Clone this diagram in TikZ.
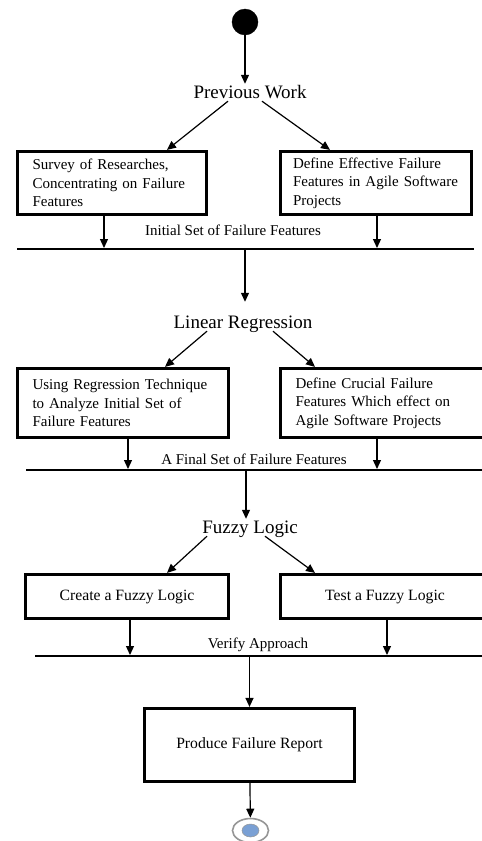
\documentclass[tikz,border=0pt]{standalone}
\usepackage{fontspec}
\setmainfont{Liberation Serif}
\usepackage{tikz}
\usetikzlibrary{arrows.meta,shapes.geometric}
\pgfdeclarelayer{edgelayer}
\pgfdeclarelayer{nodelayer}
\pgfsetlayers{edgelayer,nodelayer,main}
\definecolor{ringgray}{RGB}{150,150,150}
\definecolor{endblue}{RGB}{122,160,212}
\tikzstyle{none}=[inner sep=0pt]
\tikzstyle{initial}=[circle,fill=black,draw=black,minimum size=26pt,inner sep=0pt]
\tikzstyle{final}=[ellipse,draw=ringgray,line width=1.6pt,fill=white,minimum width=36pt,minimum height=24pt,inner sep=0pt,
  path picture={\fill[endblue,draw=ringgray,line width=0.5pt] (path picture bounding box.center) ellipse (8.5pt and 6.5pt);}]
\tikzstyle{heading}=[font=\fontsize{19}{22}\selectfont,inner sep=1pt,text height=13pt,text depth=2pt,anchor=base]
\tikzstyle{barlabel}=[font=\fontsize{15}{18}\selectfont,inner sep=1pt,anchor=base]
\tikzstyle{activity}=[rectangle,draw=black,line width=3.2pt,font=\fontsize{15}{18.5}\selectfont,inner xsep=15pt,inner ysep=2pt,align=left]
\tikzstyle{task}=[rectangle,draw=black,line width=3.2pt,font=\fontsize{15.7}{19}\selectfont,inner sep=2pt,align=center]
\tikzstyle{syncbar}=[rectangle,fill=black,inner sep=0pt,minimum height=1.6pt]
\tikzstyle{flow}=[-{Triangle[length=9pt,width=8pt]},line width=1.2pt]

\begin{document}
\begin{tikzpicture}[x=1pt,y=-1pt]
	\useasboundingbox (0,0) rectangle (482,841);
	\begin{pgfonlayer}{nodelayer}
		\node [style=initial] (start) at (245, 22) {};
		\node [style=heading] (pw) at (250, 98) {Previous Work};
		\node [style=activity, minimum width=189pt, minimum height=63pt, text width=159pt] (survey) at (112, 183) {Survey of Researches,\\Concentrating on Failure\\Features};
		\node [style=activity, minimum width=191pt, minimum height=63pt, inner xsep=12.5pt, text width=166pt] (define) at (376, 183) {Define Effective Failure\\Features in Agile Software\\Projects};
		\node [style=barlabel] (initlbl) at (233, 235) {Initial Set of Failure Features};
		\node [style=syncbar, minimum width=457pt] (initbar) at (245.5, 249) {};

		\node [style=heading] (lr) at (243, 328) {Linear Regression};
		\node [style=activity, minimum width=211pt, minimum height=69pt, text width=181pt] (regress) at (123, 403) {Using Regression Technique\\to Analyze Initial Set of\\Failure Features};
		\node [style=activity, minimum width=209pt, minimum height=69pt, text width=179pt] (crucial) at (385, 403) {Define Crucial Failure\\Features Which effect on\\Agile Software Projects};
		\node [style=barlabel] (finallbl) at (254, 464) {A Final Set of Failure Features};
		\node [style=syncbar, minimum width=464pt] (finalbar) at (258, 470) {};

		\node [style=heading] (fuzzy) at (250, 533) {Fuzzy Logic};
		\node [style=task, minimum width=203pt, minimum height=44pt] (create) at (127, 596.5) {Create a Fuzzy Logic};
		\node [style=task, minimum width=209pt, minimum height=44pt] (test) at (385, 596.5) {Test a Fuzzy Logic};
		\node [style=barlabel] (verifylbl) at (258, 648) {Verify Approach};
		\node [style=syncbar, minimum width=455pt] (verifybar) at (262.5, 656) {};

		\node [style=task, minimum width=210pt, minimum height=73pt] (report) at (249.5, 745) {Produce Failure Report};
		\node [style=final] (end) at (250.5, 830.5) {};
	\end{pgfonlayer}
	\begin{pgfonlayer}{edgelayer}
		\draw [style=flow] (start) to (start |- pw.north);
		\draw [style=flow] ([xshift=-22pt]pw.south) to ([xshift=55pt]survey.north);
		\draw [style=flow] ([xshift=12pt]pw.south) to ([xshift=-46pt]define.north);
		\draw [style=flow] ([xshift=-8pt]survey.south) to ([xshift=-8pt]survey.south |- initbar.north);
		\draw [style=flow] ([xshift=1pt]define.south) to ([xshift=1pt]define.south |- initbar.north);
		\draw [style=flow, shorten >=12pt] ([xshift=2pt]lr.north |- initbar.south) to ([xshift=2pt]lr.north);

		\draw [style=flow] ([xshift=-36pt]lr.south) to ([xshift=42pt]regress.north);
		\draw [style=flow] ([xshift=30pt]lr.south) to ([xshift=-70pt]crucial.north);
		\draw [style=flow] ([xshift=5pt]regress.south) to ([xshift=5pt]regress.south |- finalbar.north);
		\draw [style=flow] ([xshift=-8pt]crucial.south) to ([xshift=-8pt]crucial.south |- finalbar.north);
		\draw [style=flow] ([xshift=-4pt]fuzzy.north |- finalbar.south) to ([xshift=-4pt]fuzzy.north);

		\draw [style=flow] ([xshift=-43pt]fuzzy.south) to ([xshift=40pt]create.north);
		\draw [style=flow] ([xshift=15pt]fuzzy.south) to ([xshift=-70pt]test.north);
		\draw [style=flow] ([xshift=3pt]create.south) to ([xshift=3pt]create.south |- verifybar.north);
		\draw [style=flow] ([xshift=2pt]test.south) to ([xshift=2pt]test.south |- verifybar.north);
		\draw [style=flow] (report.north |- verifybar.south) to (report.north);
		\draw [style=flow] (report) to (end);
	\end{pgfonlayer}
\end{tikzpicture}
\end{document}
